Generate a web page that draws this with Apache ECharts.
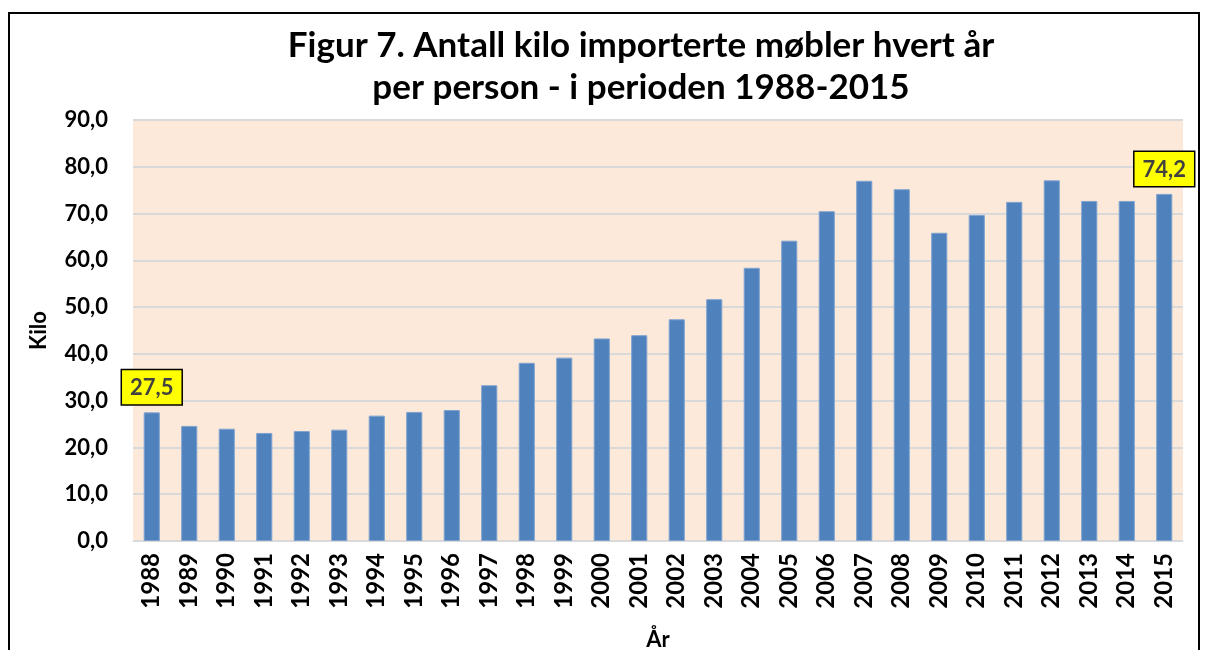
<!DOCTYPE html>
<html>
<head>
<meta charset="utf-8">
<script src="https://cdn.jsdelivr.net/npm/echarts@6/dist/echarts.min.js"></script>
<style>
html,body{margin:0;padding:0;background:#fff;}
#frame{position:absolute;left:8px;top:12px;width:1192px;height:660px;border:2px solid #000;box-sizing:border-box;}
#c{position:absolute;left:0;top:0;width:1208px;height:650px;}
</style>
</head>
<body>
<div id="frame"></div>
<div id="c"></div>
<script>
const years = ['1988','1989','1990','1991','1992','1993','1994','1995','1996','1997','1998','1999','2000','2001','2002','2003','2004','2005','2006','2007','2008','2009','2010','2011','2012','2013','2014','2015'];
const kilo = [27.5,24.6,24.0,23.1,23.5,23.8,26.8,27.6,28.0,33.3,38.1,39.2,43.3,44.0,47.4,51.7,58.4,64.2,70.5,77.0,75.2,65.9,69.7,72.5,77.1,72.7,72.7,74.2];
const labelledYears = ['1988','2015'];
const yTicks = {min:0, max:90, interval:10};
const titleText = 'Figur 7. Antall kilo importerte møbler hvert år\nper person - i perioden 1988-2015';

const fnt = 'Lato, "Open Sans", sans-serif';
const chart = echarts.init(document.getElementById('c'), null, {renderer:'canvas'});
const fmt = v => v.toFixed(1).replace('.', ',');
const data = kilo.map((v,i) => {
  const d = {value: v};
  if (labelledYears.includes(years[i])) {
    d.label = {
      show: true, position: 'top', distance: 8,
      formatter: p => fmt(p.value),
      backgroundColor: '#FFFF00', borderColor: '#000', borderWidth: 1.5,
      padding: [7, 8, 5, 8], color: '#404040', fontWeight: 'bold', fontSize: 22, fontFamily: fnt
    };
  }
  return d;
});
chart.setOption({
  animation: false,
  graphic: [{
    type: 'text', x: 641, y: 25,
    style: {
      text: titleText, textAlign: 'center', textVerticalAlign: 'top',
      fontFamily: fnt, fontWeight: 'bold', fontSize: 35, lineHeight: 42, fill: '#000'
    }
  }],
  grid: {left: 133, right: 25, top: 120, bottom: 109, show: true, backgroundColor: '#FDE9DA', borderWidth: 0, outerBoundsMode: 'none', containLabel: false},
  xAxis: {
    type: 'category', data: years,
    name: 'År', nameLocation: 'middle', nameGap: 88,
    nameTextStyle: {fontFamily: fnt, fontWeight: 'bold', fontSize: 22, color: '#000'},
    axisLine: {show: true, lineStyle: {color: '#D9D9D9', width: 1}},
    axisTick: {show: false},
    axisLabel: {rotate: 90, fontFamily: fnt, fontWeight: 'bold', fontSize: 24, color: '#000', margin: 12}
  },
  yAxis: {
    type: 'value', min: yTicks.min, max: yTicks.max, interval: yTicks.interval,
    name: 'Kilo', nameLocation: 'middle', nameGap: 83, nameRotate: 90,
    nameTextStyle: {fontFamily: fnt, fontWeight: 'bold', fontSize: 22, color: '#000'},
    axisLine: {show: false}, axisTick: {show: false},
    splitLine: {lineStyle: {color: '#D9D9D9', width: 2}},
    axisLabel: {formatter: v => fmt(v), fontFamily: fnt, fontWeight: 'bold', fontSize: 22, color: '#000', margin: 25}
  },
  series: [{
    type: 'bar', data: data, barWidth: '43%',
    itemStyle: {color: '#4F81BD', borderColor: '#7FA3CF', borderWidth: 1}
  }]
});
</script>
</body>
</html>
